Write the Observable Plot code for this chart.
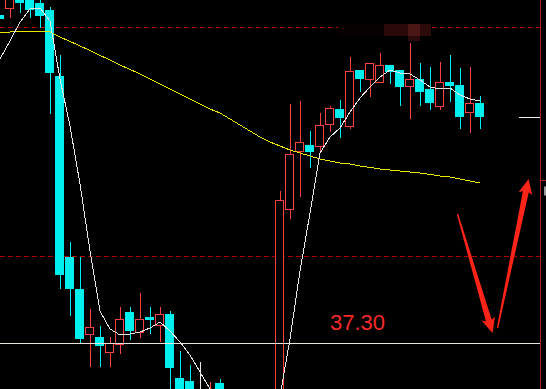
<!DOCTYPE html>
<html>
<head>
<meta charset="utf-8">
<script src="https://cdn.jsdelivr.net/npm/d3@7"></script>
<script src="https://cdn.jsdelivr.net/npm/@observablehq/plot@0.6"></script>
<style>
  html, body { margin: 0; padding: 0; background: #000; overflow: hidden; }
  #chart { width: 546px; height: 389px; overflow: hidden; background: #000; }
</style>
</head>
<body>
<div id="chart"></div>
<script>
// Daily candles, bar index -1 … 47 (one entry per bar, in order)
const firstIndex = -1;
const opens  = [53.65, 54.00, 54.60, 54.50, 54.25, 53.90, 50.60, 41.55, 39.95, 37.70, 37.55, 36.80, 37.20, 38.80, 37.80, 38.55, 38.15, 38.70, 35.50, 35.35, 34.80, 34.50, 35.25, 34.70, 33.60, 32.40, 31.80, 32.00, 32.40, 43.95, 46.85, 47.15, 47.10, 48.20, 48.95, 48.10, 50.90, 50.45, 50.30, 51.15, 50.90, 50.10, 50.45, 49.95, 49.10, 50.30, 50.15, 48.80, 49.25];
const highs  = [53.65, 54.80, 54.90, 54.80, 54.50, 54.10, 51.70, 42.35, 41.60, 39.00, 38.15, 37.60, 39.10, 39.10, 39.80, 39.10, 39.10, 38.90, 36.90, 36.20, 36.35, 35.35, 35.50, 34.80, 33.80, 32.70, 32.30, 32.60, 44.90, 49.25, 49.40, 47.90, 48.80, 49.15, 49.45, 51.60, 50.90, 51.25, 51.80, 51.15, 50.90, 52.30, 51.30, 51.10, 51.35, 51.70, 51.05, 51.10, 49.65];
const lows   = [53.50, 53.55, 53.80, 53.55, 53.05, 48.75, 40.00, 38.65, 37.30, 36.10, 36.10, 36.10, 36.75, 37.45, 37.55, 37.75, 37.35, 34.65, 34.50, 34.50, 34.40, 34.30, 34.50, 33.30, 32.10, 31.50, 31.40, 31.70, 32.30, 43.50, 44.60, 46.05, 46.85, 47.85, 47.55, 48.00, 49.85, 49.60, 50.30, 50.25, 49.15, 48.50, 49.15, 48.95, 48.95, 49.35, 48.00, 47.80, 48.00];
const closes = [53.50, 54.55, 54.30, 53.95, 53.65, 50.80, 40.70, 40.00, 37.50, 38.05, 37.15, 37.25, 38.45, 37.90, 38.45, 38.45, 38.70, 36.05, 35.00, 34.80, 34.80, 34.70, 34.70, 33.60, 32.40, 31.80, 32.00, 32.30, 44.40, 46.70, 47.30, 46.85, 48.15, 49.00, 48.55, 50.85, 50.50, 51.25, 51.15, 50.85, 50.10, 50.45, 49.85, 49.30, 50.30, 50.15, 48.60, 49.25, 48.60];

// Moving averages, one value per bar
const maShort = [51.50, 52.40, 53.35, 54.00, 54.05, 53.40, 50.50, 48.15, 45.25, 41.90, 38.90, 38.00, 37.70, 37.75, 37.85, 38.05, 38.35, 37.90, 37.35, 36.70, 35.85, 35.00, 34.15, 33.80, 33.50, 33.40, 33.60, 33.90, 34.65, 37.50, 40.90, 43.80, 46.80, 47.60, 48.05, 48.85, 49.55, 50.10, 50.60, 50.95, 50.80, 50.75, 50.45, 50.10, 50.00, 50.05, 49.70, 49.50, 49.40];
const maLong  = [52.85, 52.85, 52.88, 52.88, 52.88, 52.85, 52.60, 52.38, 52.15, 51.93, 51.68, 51.45, 51.20, 50.98, 50.75, 50.50, 50.25, 50.00, 49.75, 49.50, 49.25, 49.00, 48.80, 48.50, 48.20, 47.90, 47.60, 47.35, 47.15, 46.95, 46.80, 46.65, 46.50, 46.40, 46.30, 46.25, 46.15, 46.08, 46.00, 45.95, 45.90, 45.85, 45.80, 45.73, 45.65, 45.60, 45.50, 45.40, 45.30];

// Horizontal levels
const dashLevels = [53.10, 41.65];
const priceLine = 37.30;
const axisMark = 45.45;
const panelEdge = 53;          // bar position of the price-panel border
const lastTickStart = 50.95;   // start of the last-price tick

// Hand-drawn arrows: [bar, price] from → to
const arrowFrom = [[44.75, 43.75], [48.75, 38.05]];
const arrowTo   = [[48.25, 37.80], [51.85, 45.50]];

// Dim overlay box near the top: bar span, price span, shade
const boxX1 = [32.85, 37.45, 39.85, 39.85, 41.05];
const boxX2 = [37.45, 39.85, 41.05, 41.05, 42.15];
const boxY1 = [53.225, 53.225, 53.225, 52.625, 53.225];
const boxY2 = [52.625, 52.625, 52.625, 52.375, 52.625];
const boxFill = ["#080101", "#2b0909", "#4a1616", "#2a0a0a", "#2e0b0b"];

const W = 546, H = 389;
const xDomain = [-0.95, 53.65];
const yDomain = [34.975, 54.425];

const UP = "#ff4040", DOWN = "#00f0f0", FLAT = "#e8e8e8";

const candles = opens.map((o, k) => ({
  i: k + firstIndex, open: o, high: highs[k], low: lows[k], close: closes[k]
}));
const upBars = candles.filter(d => d.close > d.open);
const downBars = candles.filter(d => d.close < d.open);
const flatBars = candles.filter(d => d.close === d.open);

const maShortPts = maShort.map((v, k) => ({i: k + firstIndex, v}));
const maLongPts = maLong.map((v, k) => ({i: k + firstIndex, v}));

const boxes = boxX1.map((x1, k) => ({x1, x2: boxX2[k], y1: boxY1[k], y2: boxY2[k], fill: boxFill[k]}));

// Tapered arrow outline built in screen space, returned in data units
const xs = d3.scaleLinear(xDomain, [0, W]);
const ys = d3.scaleLinear(yDomain, [H, 0]);
function taperedArrow([i0, p0], [i1, p1], tail = 0.7, neck = 3.0, head = 7.0, headLen = 13) {
  const sx = xs(i0), sy = ys(p0), ex = xs(i1), ey = ys(p1);
  const dx = ex - sx, dy = ey - sy, len = Math.hypot(dx, dy);
  const ux = dx / len, uy = dy / len, nx = -uy, ny = ux;
  const bx = ex - ux * headLen, by = ey - uy * headLen;
  const pts = [
    [sx + nx * tail, sy + ny * tail],
    [bx + nx * neck, by + ny * neck],
    [bx - ux * 2 + nx * head, by - uy * 2 + ny * head],
    [ex, ey],
    [bx - ux * 2 - nx * head, by - uy * 2 - ny * head],
    [bx - nx * neck, by - ny * neck],
    [sx - nx * tail, sy - ny * tail]
  ];
  return pts.map(([x, y]) => ({x: xs.invert(x), y: ys.invert(y)}));
}
const arrows = arrowFrom.map((a, k) => taperedArrow(a, arrowTo[k]));

const bodyOpts = {
  x1: d => d.i - 0.4, x2: d => d.i + 0.4, y1: "open", y2: "close",
  shapeRendering: "crispEdges", strokeWidth: 1, clip: true
};

const chart = Plot.plot({
  width: W,
  height: H,
  margin: 0,
  x: {domain: xDomain, axis: null},
  y: {domain: yDomain, axis: null},
  style: {background: "#000", overflow: "hidden"},
  marks: [
    Plot.ruleY(dashLevels, {x1: xDomain[0], x2: panelEdge, stroke: "#a80000", strokeDasharray: "5,3", shapeRendering: "crispEdges"}),
    Plot.rect(boxes, {x1: "x1", x2: "x2", y1: "y1", y2: "y2", fill: d => d.fill, shapeRendering: "crispEdges"}),

    // wicks
    Plot.ruleX(upBars, {x: "i", y1: "low", y2: "high", stroke: UP, shapeRendering: "crispEdges", clip: true}),
    Plot.ruleX(downBars, {x: "i", y1: "low", y2: "high", stroke: DOWN, shapeRendering: "crispEdges", clip: true}),
    Plot.ruleX(flatBars, {x: "i", y1: "low", y2: "high", stroke: FLAT, shapeRendering: "crispEdges", clip: true}),

    // bodies: rising bars hollow, falling bars solid
    Plot.rect(upBars, {...bodyOpts, fill: "#000", stroke: UP}),
    Plot.rect(downBars, {...bodyOpts, fill: DOWN, stroke: DOWN}),
    Plot.rect(flatBars, {...bodyOpts, fill: FLAT, stroke: FLAT}),

    // moving averages
    Plot.line(maLongPts, {x: "i", y: "v", stroke: "#e8e800", strokeWidth: 1, shapeRendering: "crispEdges", clip: true}),
    Plot.line(maShortPts, {x: "i", y: "v", stroke: "#e6e6e6", strokeWidth: 1, shapeRendering: "crispEdges", clip: true}),

    // price line and its label
    Plot.ruleY([priceLine], {x1: xDomain[0], x2: panelEdge, stroke: "#e8e4dc", shapeRendering: "crispEdges"}),
    Plot.text([priceLine], {
      x: 32, y: d => d, text: d => d.toFixed(2), dy: -13,
      textAnchor: "start", lineAnchor: "bottom",
      fill: "#f52a2a", fontSize: 22, fontFamily: "Liberation Sans, Arial, sans-serif"
    }),

    // price panel border, last-price tick and axis marker
    Plot.ruleX([panelEdge], {stroke: "#b42020", shapeRendering: "crispEdges"}),
    Plot.ruleY([closes[closes.length - 1]], {x1: lastTickStart, x2: panelEdge, stroke: "#f0f0f0", shapeRendering: "crispEdges"}),
    Plot.ruleY([axisMark], {x1: panelEdge, x2: xDomain[1], stroke: "#b42020", shapeRendering: "crispEdges"}),
    Plot.rect([axisMark], {x1: 53.45, x2: xDomain[1], y1: d => d - 0.35, y2: d => d - 0.8, fill: "#9a9a9a"}),

    // arrows
    ...arrows.map(a => Plot.line(a, {x: "x", y: "y", fill: "#ff2418", stroke: "none", curve: "linear-closed"}))
  ]
});

document.getElementById("chart").append(chart);
</script>
</body>
</html>
